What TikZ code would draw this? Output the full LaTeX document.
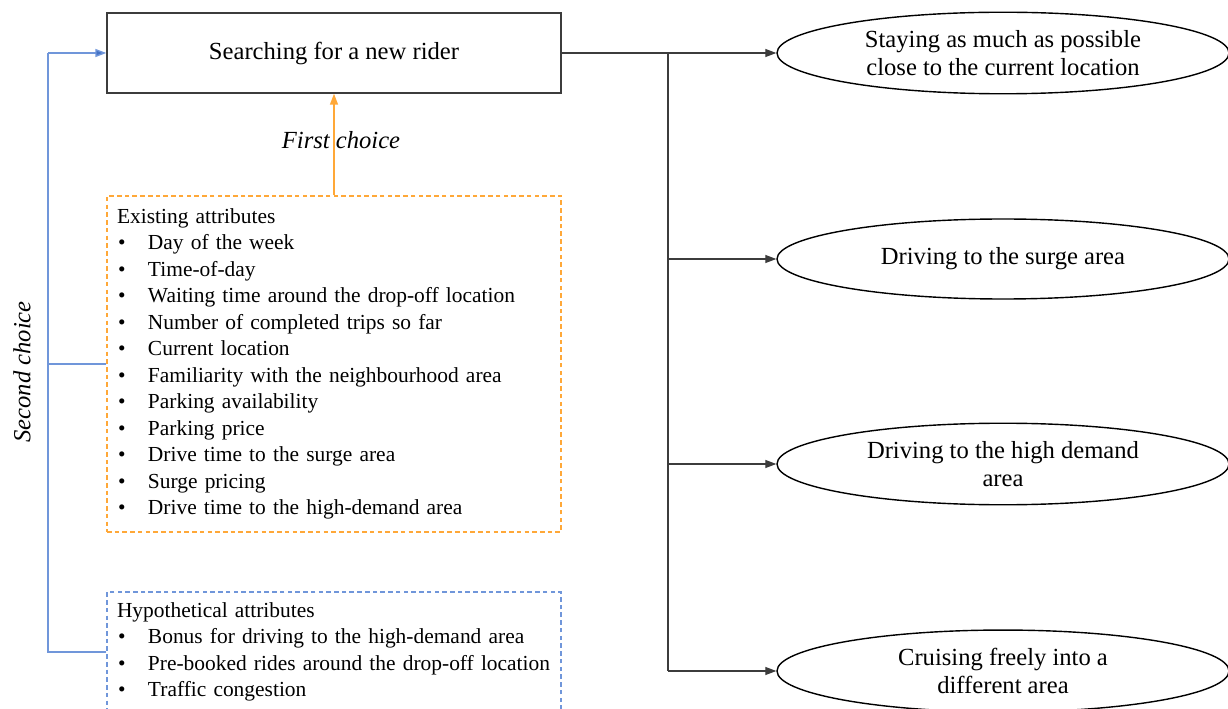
\documentclass[tikz,border=0pt]{standalone}
\usepackage{fontspec}
\setmainfont{Liberation Serif}
\usepackage{tikz}
\usetikzlibrary{arrows.meta,shapes.geometric}

\definecolor{boxgray}{RGB}{60,60,60}
\definecolor{firstorange}{RGB}{255,168,56}
\definecolor{secondblue}{RGB}{112,150,218}
\definecolor{tipblue}{RGB}{68,114,196}

\tikzset{
  tip/.style={-{Triangle[length=2.2mm,width=1.6mm]}},
  mainbox/.style={draw=boxgray,line width=0.8pt,minimum width=9.08cm,minimum height=1.6cm,font=\fontsize{14}{16}\selectfont},
  attrbox/.style={dash pattern=on 2.6pt off 1.8pt,line width=0.8pt,minimum width=9.08cm,text width=8.68cm,inner xsep=0.2cm,align=left,font=\fontsize{12.2}{15.08}\selectfont},
  choice/.style={ellipse,draw=black,line width=0.8pt,minimum width=9.04cm,minimum height=1.6cm,align=center,font=\fontsize{14}{16.3}\selectfont},
}
\newcommand{\itm}[1]{\makebox[0.62cm][l]{\hspace{0.02cm}\textbullet}#1}

\begin{document}
\begin{tikzpicture}
\clip (0,0) rectangle (24.56,-14.18);

% left column
\node[mainbox] (search) at (6.68,-1.06) {\raisebox{-1.5pt}{Searching for a new rider}};
\node[attrbox,draw=firstorange,minimum height=6.72cm] (exist) at (6.68,-7.28) {Existing attributes\\
\itm{Day of the week}\\
\itm{Time-of-day}\\
\itm{Waiting time around the drop-off location}\\
\itm{Number of completed trips so far}\\
\itm{Current location}\\
\itm{Familiarity with the neighbourhood area}\\
\itm{Parking availability}\\
\itm{Parking price}\\
\itm{Drive time to the surge area}\\
\itm{Surge pricing}\\
\itm{Drive time to the high-demand area}};
\node[attrbox,draw=secondblue,minimum height=2.4cm] (hypo) at (6.68,-13.04) {Hypothetical attributes\\
\itm{Bonus for driving to the high-demand area}\\
\itm{Pre-booked rides around the drop-off location}\\
\itm{Traffic congestion}};

\node[font=\fontsize{14}{16}\selectfont\itshape] (first) at (6.82,-2.8) {First choice};
\node[font=\fontsize{14}{16}\selectfont\itshape,rotate=90] (second) at (0.44,-7.44) {Second choice};

% right column
\node[choice] (stay) at (20.06,-1.06) {Staying as much as possible\\close to the current location};
\node[choice] (surge) at (20.06,-5.18) {Driving to the surge area};
\node[choice] (high) at (20.06,-9.28) {Driving to the high demand\\area};
\node[choice] (cruise) at (20.06,-13.42) {Cruising freely into a\\different area};

\coordinate (lft) at (0.96,0);
\coordinate (br) at (13.36,0);

% connectors
\draw[tip,firstorange,line width=0.8pt] (exist.north) -- (search.south);
\draw[secondblue,line width=0.8pt] (hypo.west) -- (hypo.west -| lft) -- (search.west -| lft);
\draw[secondblue,line width=0.8pt] (exist.west) -- (exist.west -| lft);
\draw[-{Triangle[length=2.2mm,width=1.6mm,fill=tipblue]},secondblue,line width=0.8pt] (search.west -| lft) -- (search.west);

\draw[tip,boxgray,line width=0.7pt] (search.east) -- (stay.west);
\draw[boxgray,line width=0.7pt] (search.east -| br) -- (cruise.west -| br);
\draw[tip,boxgray,line width=0.7pt] (surge.west -| br) -- (surge.west);
\draw[tip,boxgray,line width=0.7pt] (high.west -| br) -- (high.west);
\draw[tip,boxgray,line width=0.7pt] (cruise.west -| br) -- (cruise.west);
\end{tikzpicture}
\end{document}
